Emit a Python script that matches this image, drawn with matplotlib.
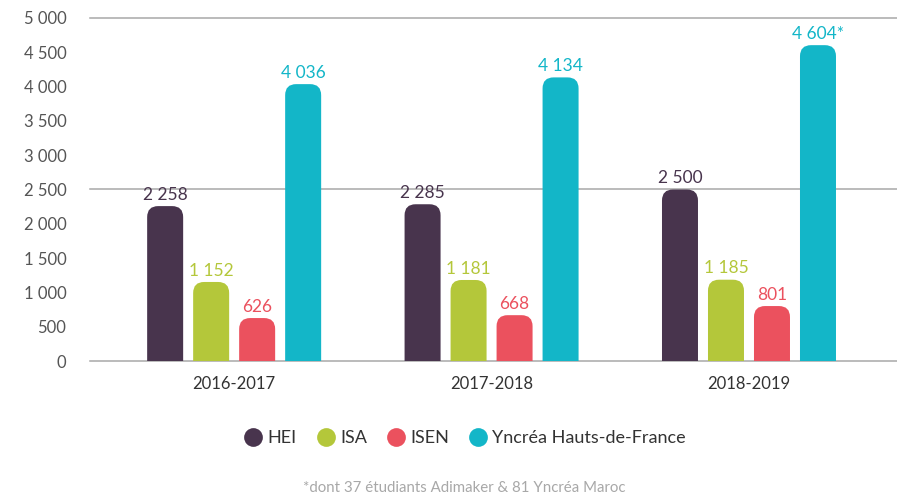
import matplotlib
matplotlib.use("Agg")
import matplotlib.pyplot as plt
from matplotlib.patches import FancyBboxPatch
from matplotlib.lines import Line2D
import numpy as np

plt.rcParams['font.family'] = ['Lato', 'DejaVu Sans']

years = ["2016-2017", "2017-2018", "2018-2019"]
series_names = ["HEI", "ISA", "ISEN", "Yncréa Hauts-de-France"]
hei = [2258, 2285, 2500]
isa = [1152, 1181, 1185]
isen = [626, 668, 801]
yncrea = [4036, 4134, 4604]
labels_hei = ["2 258", "2 285", "2 500"]
labels_isa = ["1 152", "1 181", "1 185"]
labels_isen = ["626", "668", "801"]
labels_yncrea = ["4 036", "4 134", "4 604*"]
yticks = [0, 500, 1000, 1500, 2000, 2500, 3000, 3500, 4000, 4500, 5000]
ytick_labels = ["0", "500", "1 000", "1 500", "2 000", "2 500", "3 000", "3 500", "4 000", "4 500", "5 000"]
footnote = "*dont 37 étudiants Adimaker & 81 Yncréa Maroc"

colors = ["#48344d", "#b4c73a", "#eb515e", "#13b6c8"]

W, H = 897, 499
fig = plt.figure(figsize=(W/100, H/100), dpi=100)
ax_left, ax_right, ax_top, ax_bot = 90, 897, 18, 361
ax = fig.add_axes([ax_left/W, 1-ax_bot/H, (ax_right-ax_left)/W, (ax_bot-ax_top)/H])

xlim = (-0.56, 2.575)
ylim = (0, 5000)
ax.set_xlim(*xlim)
ax.set_ylim(*ylim)

px_per_x = (ax_right-ax_left)/(xlim[1]-xlim[0])
px_per_y = (ax_bot-ax_top)/(ylim[1]-ylim[0])
aspect = px_per_x/px_per_y

width = 36/px_per_x
step = 46/px_per_x
r = 11/px_per_x

x = np.arange(len(years))
all_vals = [hei, isa, isen, yncrea]
all_labels = [labels_hei, labels_isa, labels_isen, labels_yncrea]

for gridv in [0, 2500, 5000]:
    ax.axhline(gridv, color="#a8a8a8", lw=1.1, zorder=1, clip_on=False)

for i, (vals, labs, c) in enumerate(zip(all_vals, all_labels, colors)):
    offs = (i-1.5)*step
    bars = ax.bar(x+offs, vals, width=width, color=c, alpha=0)
    for b, v, lab in zip(bars, vals, labs):
        x0 = b.get_x()
        h = b.get_height()
        p = FancyBboxPatch((x0, -r*aspect*1.5), b.get_width(), h + r*aspect*1.5,
                           boxstyle=f"round,pad=0,rounding_size={r}",
                           mutation_aspect=aspect, facecolor=c, edgecolor="none",
                           zorder=2)
        ax.add_patch(p)
        ax.annotate(lab, (x0+b.get_width()/2, h), xytext=(0, 2.5), textcoords="offset points",
                    ha="center", va="bottom", color=c, fontsize=12.5)

ax.set_yticks(yticks)
ax.set_yticklabels(ytick_labels, fontsize=12, color="#555555")
ax.set_xticks(x)
ax.set_xticklabels(years, fontsize=12, color="#333333")
ax.tick_params(axis="y", length=0, pad=17)
ax.tick_params(axis="x", length=0, pad=11)
for s in ax.spines.values():
    s.set_visible(False)

handles = [Line2D([], [], marker="o", linestyle="none", markersize=13.5,
                  markerfacecolor=c, markeredgecolor="none") for c in colors]
fig.legend(handles, series_names, loc="center", bbox_to_anchor=(465/W, 1-438/H),
           ncol=4, frameon=False, fontsize=13, handletextpad=0.3, columnspacing=1.1,
           labelcolor="#333333", handlelength=1.0)

fig.text(464/W, 1-488/H, footnote, ha="center", va="center", fontsize=10.8, color="#a8a8a8")

fig.savefig("out.png", dpi=100)
